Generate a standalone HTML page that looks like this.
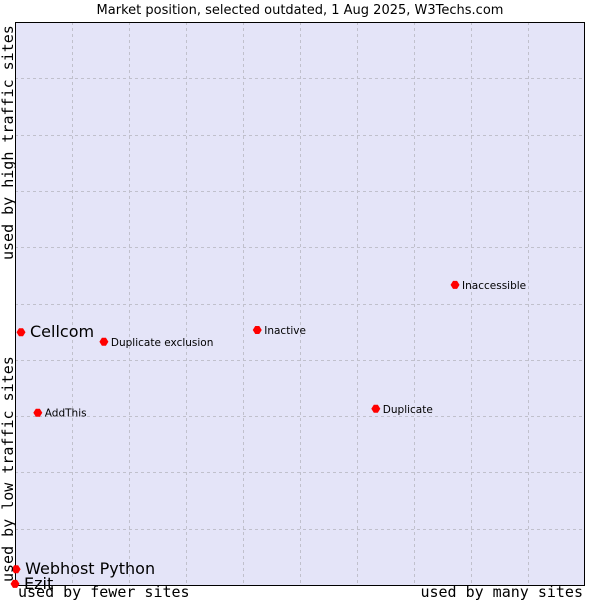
<!DOCTYPE html>
<html><head><meta charset="utf-8"><style>
body{margin:0;background:#fff;}
svg{display:block;}
</style></head><body>
<svg id="chart" width="600" height="600" xmlns="http://www.w3.org/2000/svg" font-family="DejaVu Sans, Liberation Sans, sans-serif">
<text x="300" y="14" text-anchor="middle" font-size="13" fill="#000">Market position, selected outdated, 1 Aug 2025, W3Techs.com</text>
<rect x="15" y="22" width="570" height="563" fill="#e4e4f8" stroke="none"/>
<g id="grid"></g>
<line x1="15.5" y1="22" x2="15.5" y2="585" stroke="#000"/>
<line x1="15" y1="585.5" x2="585" y2="585.5" stroke="#000"/>
<line x1="15" y1="22.5" x2="585" y2="22.5" stroke="#000"/>
<line x1="584.5" y1="22" x2="584.5" y2="585" stroke="#000"/>
<g id="points"></g>
<text x="18" y="597" font-family="DejaVu Sans Mono, Liberation Mono, monospace" font-size="15">used by fewer sites</text>
<text x="583" y="597" text-anchor="end" font-family="DejaVu Sans Mono, Liberation Mono, monospace" font-size="15">used by many sites</text>
<text transform="translate(13,582) rotate(-90)" font-family="DejaVu Sans Mono, Liberation Mono, monospace" font-size="15">used by low traffic sites</text>
<text transform="translate(13,260) rotate(-90)" font-family="DejaVu Sans Mono, Liberation Mono, monospace" font-size="15">used by high traffic sites</text>
</svg>
<script>
const names = ["Cellcom","Duplicate exclusion","Inactive","Inaccessible","AddThis","Duplicate","Webhost Python","Ezit"];
const xValues = [1.05,15.6,42.5,77.2,4.0,63.3,0.2,0];
const yValues = [44.9,43.2,45.3,53.3,30.6,31.3,2.8,0.2];
const bigLabel = [true,false,false,false,false,false,true,true];
const X0=15,X1=585,Y0=585,Y1=22;
function sx(v){return X0+(X1-X0)*v/100;}
function sy(v){return Y0-(Y0-Y1)*v/100;}
const NS="http://www.w3.org/2000/svg";
const grid=document.getElementById('grid');
for(let i=1;i<10;i++){
  const v=document.createElementNS(NS,'line');
  
  
  const x=Math.round(sx(i*10))+0.5;
  v.setAttribute('x1',x);v.setAttribute('x2',x);v.setAttribute('y1',Y1);v.setAttribute('y2',Y0);
  v.setAttribute('stroke','#c0c0cc');v.setAttribute('stroke-dasharray','3,3');
  grid.appendChild(v);
  const h=document.createElementNS(NS,'line');
  
  
  const y=Math.round(sy(i*10))+0.5;
  h.setAttribute('y1',y);h.setAttribute('y2',y);h.setAttribute('x1',X0);h.setAttribute('x2',X1);
  h.setAttribute('stroke','#c0c0cc');h.setAttribute('stroke-dasharray','3,3');
  grid.appendChild(h);
}
const pts=document.getElementById('points');
names.forEach((n,i)=>{
  const cx=sx(xValues[i]),cy=sy(yValues[i]);
  const d=document.createElementNS(NS,'path');
  
  
  d.setAttribute('d',`M${cx-4.5},${cy} L${cx-2},${cy-4} L${cx+2},${cy-4} L${cx+4.5},${cy} L${cx+2},${cy+4} L${cx-2},${cy+4} Z`);
  d.setAttribute('fill','#ff0000');
  pts.appendChild(d);
  const t=document.createElementNS(NS,'text');
  
  
  const big=bigLabel[i];
  t.setAttribute('x',cx+(big?9:7));
  t.setAttribute('y',cy+(big?5:4));
  t.setAttribute('font-size',big?16:10.5);
  t.setAttribute('fill','#000');
  t.textContent=n;
  pts.appendChild(t);
});
</script>
</body></html>
